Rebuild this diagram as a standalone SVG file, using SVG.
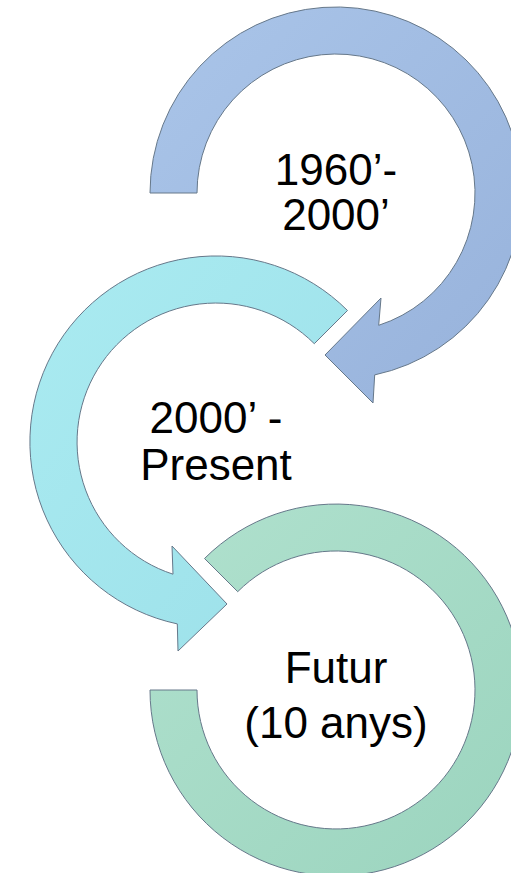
<svg xmlns="http://www.w3.org/2000/svg" width="511" height="873" viewBox="0 0 511 873">
  <style>
    .arc { stroke: #66788a; stroke-width: 1; stroke-linejoin: miter; }
    .lbl { font-family: "Liberation Sans", Arial, sans-serif; font-size: 44px; fill: #000; text-anchor: middle; }
  </style>
  <defs>
    <linearGradient id="gBlue" x1="0" y1="0" x2="1" y2="1">
      <stop offset="0" stop-color="#aac5e9"/>
      <stop offset="1" stop-color="#97b2db"/>
    </linearGradient>
    <linearGradient id="gCyan" x1="0" y1="0" x2="1" y2="1">
      <stop offset="0" stop-color="#aaebf1"/>
      <stop offset="1" stop-color="#9ce0e9"/>
    </linearGradient>
    <linearGradient id="gGreen" x1="0" y1="0" x2="1" y2="1">
      <stop offset="0" stop-color="#b0e1ce"/>
      <stop offset="1" stop-color="#9bd4be"/>
    </linearGradient>
  </defs>
  <g id="connectors"></g>
  <g id="node-1960">
    <path class="arc" fill="url(#gBlue)" d="M 150 193 A 186 186 0 1 1 374.7 374.9 L 373 403 L 325 355 L 381 298 L 378.7 325.3 A 139 139 0 1 0 197 193 Z"/>
    <text class="lbl" x="336" y="185">1960’-</text>
    <text class="lbl" x="336" y="230">2000’</text>
  </g>
  <g id="node-2000">
    <path class="arc" fill="url(#gCyan)" d="M 347.5 310.5 A 186 186 0 1 0 177.3 623.9 L 178 651 L 227 604 L 172 546 L 173 574.2 A 139 139 0 1 1 314.3 343.7 Z"/>
    <text class="lbl" x="216" y="433">2000’ -</text>
    <text class="lbl" x="216" y="480">Present</text>
  </g>
  <g id="node-futur">
    <path class="arc" fill="url(#gGreen)" d="M 204.5 558.5 A 186 186 0 1 1 150 690 L 197 690 A 139 139 0 1 0 237.7 591.7 Z"/>
    <text class="lbl" x="336" y="683">Futur</text>
    <text class="lbl" x="336" y="738">(10 anys)</text>
  </g>
</svg>
